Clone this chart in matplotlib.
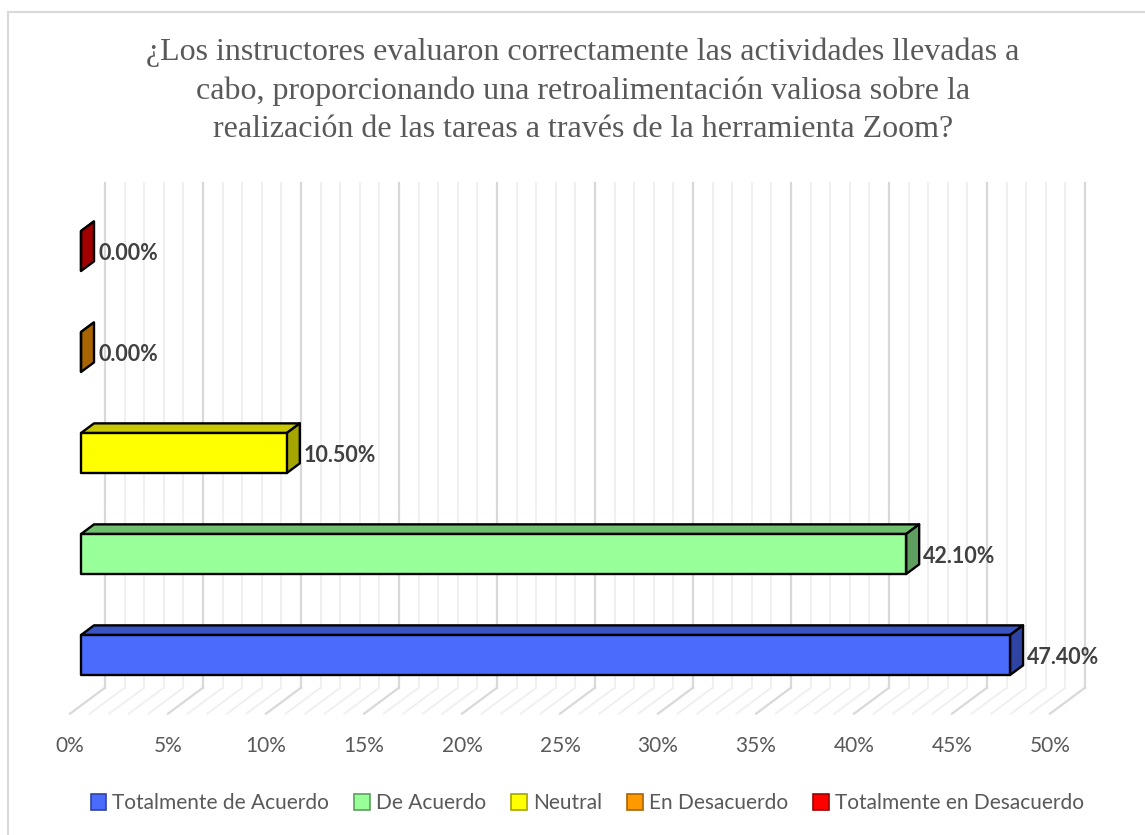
import matplotlib.pyplot as plt
from matplotlib.patches import Polygon, Rectangle, Patch

# Survey results (percent)
categories = ["Totalmente de Acuerdo", "De Acuerdo", "Neutral",
              "En Desacuerdo", "Totalmente en Desacuerdo"]
values = [47.4, 42.1, 10.5, 0.0, 0.0]
tick_values = [0, 5, 10, 15, 20, 25, 30, 35, 40, 45, 50]

front_colors = ["#4B6BFD", "#99FF99", "#FFFF00", "#FF9900", "#FF0000"]
top_colors = ["#3A54C4", "#6FBF6F", "#C8C800", "#C27400", "#C00000"]
side_colors = ["#2E43A2", "#5E9E5E", "#A5A500", "#A86400", "#A00000"]

title = ("¿Los instructores evaluaron correctamente las actividades llevadas a\n"
         "cabo, proporcionando una retroalimentación valiosa sobre la\n"
         "realización de las tareas a través de la herramienta Zoom?")

# oblique projection: one unit of depth shifts by DX (value units) and DY (category units)
DX = 35 / 19.6
DY = 26 / 101
D0, D1 = 0.314, 0.686   # bar front / back depth
HALF = 0.198            # half bar height in category units
X_MAX = 50

fig = plt.figure(figsize=(11.45, 8.35), dpi=100)
ax = fig.add_axes([0, 0, 1, 1])
ax.set_xlim(-70 / 19.6, 1075 / 19.6)
ax.set_ylim((663.2 - 835) / 101, 663.2 / 101)
ax.axis("off")

# chart border
fig.add_artist(Rectangle((8 / 1145, -0.1), 1.2, 1 - 12 / 835 + 0.1,
                         transform=fig.transFigure, fill=False,
                         edgecolor="#D9D9D9", lw=1.5))


def proj(v, i, d):
    return (v + DX * d, i + DY * d)


# back wall and floor gridlines
y0, y1 = -0.5, len(categories) - 0.5
for v in range(0, X_MAX + 1):
    major = v % 5 == 0
    col = "#D9D9D9" if major else "#F0F0F0"
    lw = 1.6 if major else 1.4
    zo = 1.2 if major else 1.0
    bx, by0 = proj(v, y0, 1)
    _, by1 = proj(v, y1, 1)
    ax.plot([bx, bx], [by0, by1], color=col, lw=lw, zorder=zo)
    fx, fy = proj(v, y0, 0)
    ax.plot([fx, bx], [fy, by0], color=col, lw=lw, zorder=zo)

# 3D bars
for i, (val, fc, tc, sc) in enumerate(zip(values, front_colors, top_colors, side_colors)):
    lo, hi = i - HALF, i + HALF
    front = [proj(0, lo, D0), proj(val, lo, D0), proj(val, hi, D0), proj(0, hi, D0)]
    top = [proj(0, hi, D0), proj(val, hi, D0), proj(val, hi, D1), proj(0, hi, D1)]
    side = [proj(val, lo, D0), proj(val, lo, D1), proj(val, hi, D1), proj(val, hi, D0)]
    for pts, c in ((top, tc), (side, sc), (front, fc)):
        ax.add_patch(Polygon(pts, closed=True, facecolor=c, edgecolor="black",
                             lw=1.7, joinstyle="round", zorder=3))
    lx = proj(val, i, D1)[0]
    ly = proj(val, i, D0)[1]
    ax.annotate(f"{val:.2f}%", (lx, ly), xytext=(3, -1.5), textcoords="offset points",
                ha="left", va="center", fontsize=15.5, fontweight="bold",
                color="#404040", family="Lato", zorder=4)

# value axis labels along the front edge of the floor
for v in tick_values:
    ax.annotate(f"{v}%", (v, y0), xytext=(0, -23), textcoords="offset points",
                ha="center", va="center", fontsize=15, color="#595959", family="Lato")

fig.text(0.509, 0.891, title, ha="center", va="center", fontsize=23,
         color="#595959", family="Liberation Serif", linespacing=1.42)

handles = [Patch(facecolor=fc, edgecolor=sc, lw=1.2) for fc, sc in zip(front_colors, side_colors)]
fig.legend(handles, categories, loc="center", bbox_to_anchor=(0.513, 0.038), ncol=5,
           frameon=False, handlelength=0.75, handleheight=0.75, handletextpad=0.3,
           columnspacing=1.2, prop={"family": "Lato", "size": 15}, labelcolor="#595959")

fig.savefig("out.png", dpi=100)
